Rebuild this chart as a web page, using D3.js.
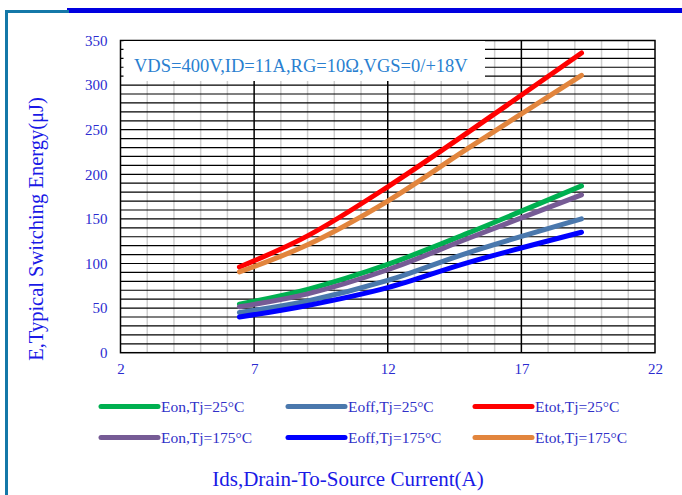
<!DOCTYPE html>
<html>
<head>
<meta charset="utf-8">
<script src="https://cdn.jsdelivr.net/npm/d3@7/dist/d3.min.js"></script>
<style>
body{margin:0;background:#fff;}
svg{display:block;}
</style>
</head>
<body>
<svg id="chart" width="682" height="495"></svg>
<script>
// ---- data ----
const xTicks = [2, 7, 12, 17, 22];
const yTicks = [0, 50, 100, 150, 200, 250, 300, 350];
const current = [6.45, 9, 12, 15, 19.25];
const eon25   = [54.5, 71, 99, 134, 187];
const eoff25  = [45, 58, 81, 112, 150];
const etot25  = [96, 131, 186, 247, 336];
const eon175  = [51.5, 66, 93, 128, 177];
const eoff175 = [40, 53, 73, 101, 135];
const etot175 = [90.5, 121, 170, 229, 311];
const seriesNames = ["Eon,Tj=25°C", "Eoff,Tj=25°C", "Etot,Tj=25°C",
                     "Eon,Tj=175°C", "Eoff,Tj=175°C", "Etot,Tj=175°C"];
const seriesValues = [eon25, eoff25, etot25, eon175, eoff175, etot175];
const seriesColors = ["#00b050", "#4a78ad", "#ff0000", "#765b95", "#0000ff", "#e2853d"];
const note = "VDS=400V,ID=11A,RG=10Ω,VGS=0/+18V";
const xTitle = "Ids,Drain-To-Source Current(A)";
const yTitle = "E,Typical Switching Energy(μJ)";

const svg = d3.select("#chart");
const font = "'Liberation Serif','Times New Roman',serif";

// frame decorations
svg.append("rect").attr("x", 67).attr("y", 8).attr("width", 615).attr("height", 5).attr("fill", "#0000e0");
svg.append("rect").attr("x", 5).attr("y", 10).attr("width", 64).attr("height", 3).attr("fill", "#1478a8");
svg.append("rect").attr("x", 5).attr("y", 10).attr("width", 3).attr("height", 485).attr("fill", "#1478a8");

const x = d3.scaleLinear().domain([2, 22]).range([120.5, 655]);
const y = d3.scaleLinear().domain([0, 350]).range([352.7, 40.5]);

const g = svg.append("g");
// minor vertical grid
g.selectAll("line.vmin").data(d3.range(3, 22, 1).filter(v => (v - 2) % 5 !== 0)).join("line")
  .attr("x1", d => x(d)).attr("x2", d => x(d)).attr("y1", y(0)).attr("y2", y(350))
  .attr("stroke", "#cfcfcf").attr("stroke-width", 1.5);
// horizontal grid
g.selectAll("line.h").data(d3.range(10, 350, 10)).join("line")
  .attr("x1", x(2)).attr("x2", x(22)).attr("y1", d => y(d)).attr("y2", d => y(d))
  .attr("stroke", "#000").attr("stroke-width", 1.2);
// major vertical grid
g.selectAll("line.vmaj").data(xTicks.slice(1, -1)).join("line")
  .attr("x1", d => x(d)).attr("x2", d => x(d)).attr("y1", y(0)).attr("y2", y(350))
  .attr("stroke", "#000").attr("stroke-width", 1.5);
// border
g.append("rect").attr("x", x(2)).attr("y", y(350)).attr("width", x(22) - x(2)).attr("height", y(0) - y(350))
  .attr("fill", "none").attr("stroke", "#000").attr("stroke-width", 1.5);

// note box
svg.append("rect").attr("x", 123.5).attr("y", 41).attr("width", 361.5).attr("height", 40).attr("fill", "#fff");
svg.append("text").attr("x", 134).attr("y", 72).attr("font-family", font).attr("font-size", 18.5)
  .attr("fill", "#2a7fd0").text(note);

// series lines
const line = d3.line().x(d => x(d[0])).y(d => y(d[1])).curve(d3.curveCatmullRom.alpha(0.5));
seriesValues.forEach((vals, i) => {
  svg.append("path").datum(current.map((c, j) => [c, vals[j]]))
    .attr("d", line).attr("fill", "none").attr("stroke", seriesColors[i])
    .attr("stroke-width", 5).attr("stroke-linecap", "round").attr("stroke-linejoin", "round");
});

// axes
const xAxis = svg.append("g").attr("transform", `translate(0,${y(0) + 8})`)
  .call(d3.axisBottom(x).tickValues(xTicks).tickSize(0).tickFormat(d3.format("d")));
xAxis.select(".domain").remove();
xAxis.selectAll("text").attr("font-family", font).attr("font-size", 15).attr("fill", "#2b2bd0");

const yAxis = svg.append("g").attr("transform", `translate(${x(2) - 10},0)`)
  .call(d3.axisLeft(y).tickValues(yTicks).tickSize(0).tickFormat(d3.format("d")));
yAxis.select(".domain").remove();
yAxis.selectAll("text").attr("font-family", font).attr("font-size", 15).attr("fill", "#2b2bd0");

// axis titles
svg.append("text").attr("x", 348).attr("y", 486).attr("text-anchor", "middle")
  .attr("font-family", font).attr("font-size", 21).attr("fill", "#1a1ae6").text(xTitle);
svg.append("text").attr("transform", "translate(43,229) rotate(-90)").attr("text-anchor", "middle")
  .attr("font-family", font).attr("font-size", 20.5).attr("fill", "#1a1ae6").text(yTitle);

// legend
const colX = [101, 288, 475];
const rowY = [406.5, 437.5];
seriesNames.forEach((name, i) => {
  const cx = colX[i % 3], cy = rowY[Math.floor(i / 3)];
  svg.append("line").attr("x1", cx).attr("x2", cx + 57).attr("y1", cy).attr("y2", cy)
    .attr("stroke", seriesColors[i]).attr("stroke-width", 5).attr("stroke-linecap", "round");
  svg.append("text").attr("x", cx + 60).attr("y", cy + 5).attr("font-family", font)
    .attr("font-size", 15.5).attr("fill", "#3030c8").text(name);
});
</script>
</body>
</html>
